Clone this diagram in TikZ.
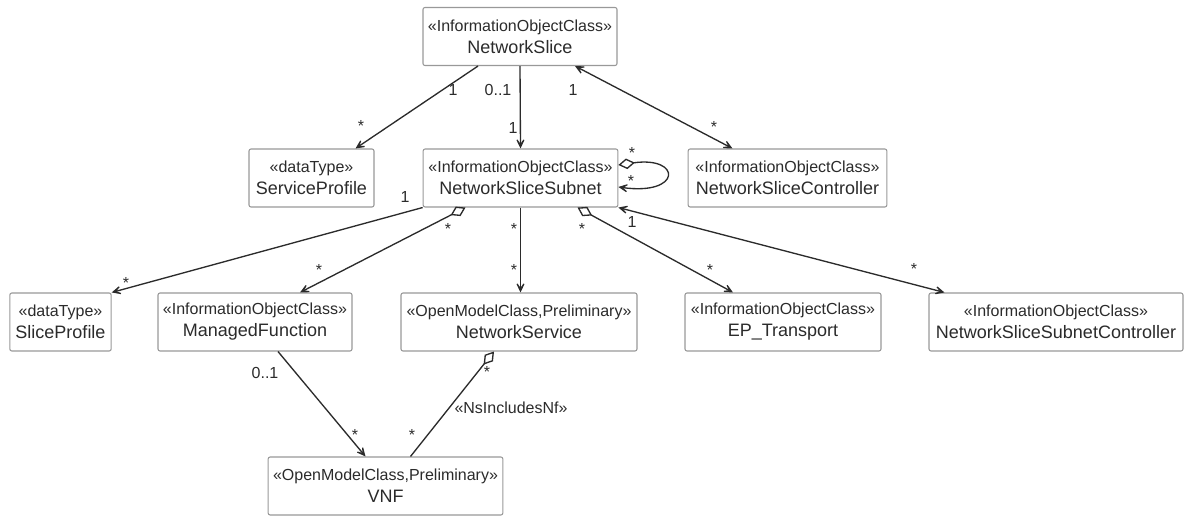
\documentclass[tikz,border=0pt]{standalone}
\usepackage{fontspec}
\setmainfont{Liberation Sans}
\usetikzlibrary{arrows.meta,calc}
\definecolor{linegray}{HTML}{2B2B2B}
\definecolor{boxgray}{HTML}{999999}
\newcommand{\stereo}[1]{{\fontsize{12}{14}\selectfont «#1»}}
\tikzset{
  umlclass/.style={draw=boxgray, line width=0.8pt, rounded corners=1.5pt, fill=white, align=center,
    minimum height=43.5pt, inner sep=1pt, text=linegray, font=\fontsize{13.5}{16.5}\selectfont},
  tip/.tip={Stealth[length=11pt,width=10.5pt,inset=7.5pt]},
  assoc/.style={draw=linegray, line width=1pt, -tip},
  biassoc/.style={draw=linegray, line width=1pt, tip-tip},
  aggr/.style={draw=linegray, line width=1pt, {Diamond[open,length=12.5pt,width=8pt]}-tip},
  aggrplain/.style={draw=linegray, line width=1pt, {Diamond[open,length=12.5pt,width=8pt]}-},
  mult/.style={text=linegray, font=\fontsize{12}{14}\selectfont, inner sep=0pt},
}
\begin{document}
\begin{tikzpicture}[x=0.75pt,y=-0.75pt]
\useasboundingbox (0,0) rectangle (1189,516);
\node[umlclass, minimum width=145.5pt] (ns) at (520,36.5) {\stereo{InformationObjectClass}\\NetworkSlice};
\node[umlclass, minimum width=93.75pt] (sp) at (311.5,178) {\stereo{dataType}\\ServiceProfile};
\node[umlclass, minimum width=146pt] (nss) at (520.5,178) {\stereo{InformationObjectClass}\\NetworkSliceSubnet};
\node[umlclass, minimum width=149pt] (nsc) at (787.5,178) {\stereo{InformationObjectClass}\\NetworkSliceController};
\node[umlclass, minimum width=76pt] (slp) at (60.5,322) {\stereo{dataType}\\SliceProfile};
\node[umlclass, minimum width=145.5pt] (mf) at (255,322) {\stereo{InformationObjectClass}\\ManagedFunction};
\node[umlclass, minimum width=177pt] (nsv) at (519,322) {\stereo{OpenModelClass,Preliminary}\\NetworkService};
\node[umlclass, minimum width=147pt] (ep) at (783,322) {\stereo{InformationObjectClass}\\EP\_Transport};
\node[umlclass, minimum width=190.5pt] (nssc) at (1056,322) {\stereo{InformationObjectClass}\\NetworkSliceSubnetController};
\node[umlclass, minimum width=176pt] (vnf) at (385.5,486) {\stereo{OpenModelClass,Preliminary}\\VNF};

\draw[assoc] ($(ns.south)+(-42,0)$) -- ($(sp.north)+(44,0)$);
\draw[assoc] (ns.south) -- (nss.north);
\draw[biassoc] ($(ns.south)+(55,0)$) -- ($(nsc.north)+(-55,0)$);
\draw[aggr] ($(nss.east)+(0,-13)$) .. controls (682,156) and (682,196) .. ($(nss.east)+(0,9)$);
\draw[assoc] (nss.south west) -- (slp.north east);
\draw[aggr] ($(nss.south)+(-55,0)$) -- ($(mf.north)+(45,0)$);
\draw[assoc] (nss.south) -- (nss.south |- nsv.north);
\draw[aggr] ($(nss.south)+(57,0)$) -- ($(ep.north)+(-50,0)$);
\draw[biassoc] (nss.south east) -- ($(nssc.north west)+(16,0)$);
\draw[assoc] ($(mf.south)+(23,0)$) -- ($(vnf.north)+(-20,0)$);
\draw[aggrplain] ($(nsv.south)+(-25,0)$) -- ($(vnf.north)+(25,0)$);

\node[mult] (m1a) at (453,90) {1};
\node[mult] (m1b) at (361,126) {*};
\node[mult] (m2a) at (498,90) {0..1};
\node[mult] (m2b) at (513,128) {1};
\node[mult] (m3a) at (573,90) {1};
\node[mult] (m3b) at (714,127) {*};
\node[mult] (m4a) at (632,153) {*};
\node[mult] (m4b) at (631,181) {*};
\node[mult] (m5a) at (405,197) {1};
\node[mult] (m5b) at (126,283) {*};
\node[mult] (m6a) at (448,229) {*};
\node[mult] (m6b) at (319,270) {*};
\node[mult] (m7a) at (514,229) {*};
\node[mult] (m7b) at (514,270) {*};
\node[mult] (m8a) at (582,229) {*};
\node[mult] (m8b) at (710,270) {*};
\node[mult] (m9a) at (632,222) {1};
\node[mult] (m9b) at (914,269) {*};
\node[mult] (m10a) at (265,373) {0..1};
\node[mult] (m10b) at (355,435) {*};
\node[mult] (m11a) at (487,372) {*};
\node[mult] (m11b) at (412,435) {*};
\node[mult] (nsincl) at (511,408) {\stereo{NsIncludesNf}};
\end{tikzpicture}
\end{document}
